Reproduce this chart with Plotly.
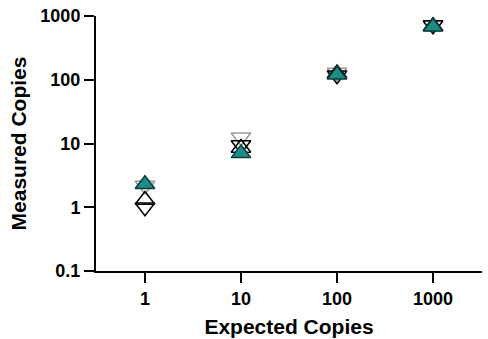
import plotly.graph_objects as go

expected = [1, 10, 100, 1000]
rep_gray_down = [2.2, 12.5, 130, 700]
rep_black_down = [1.0, 9.5, 118, 720]
rep_black_up = [1.3, 8.5, 125, 690]
rep_teal_up = [2.3, 7.0, 120, 680]

x_ticks = [1, 10, 100, 1000]
x_ticklabels = ["1", "10", "100", "1000"]
y_ticks = [0.1, 1, 10, 100, 1000]
y_ticklabels = ["0.1", "1", "10", "100", "1000"]

fig = go.Figure()
series = [
    (rep_gray_down, "triangle-down", "rgba(255,255,255,0)", "#9a9a9a"),
    (rep_black_down, "triangle-down", "rgba(255,255,255,0)", "black"),
    (rep_black_up, "triangle-up", "rgba(255,255,255,0)", "black"),
    (rep_teal_up, "triangle-up", "#1b8c86", "#0d3d3a"),
]
for vals, sym, fill, line in series:
    fig.add_trace(go.Scatter(
        x=expected, y=vals, mode="markers",
        marker=dict(symbol=sym, size=17, color=fill, line=dict(color=line, width=1.5)),
        showlegend=False, cliponaxis=False,
    ))

FAM = "Liberation Sans, Arial, sans-serif"
axis_font = dict(family=FAM, size=18, color="black", weight="bold")
title_font = dict(family=FAM, size=21, color="black", weight="bold")

fig.update_layout(
    width=488, height=339,
    margin=dict(l=96, r=6, t=16, b=68),
    plot_bgcolor="white", paper_bgcolor="white",
    xaxis=dict(
        type="log", range=[-0.51, 3.51], automargin=False,
        tickvals=x_ticks, ticktext=x_ticklabels,
        ticks="outside", ticklen=10, tickwidth=2, tickcolor="black",
        showline=True, linecolor="black", linewidth=2,
        showgrid=False, zeroline=False,
        tickfont=axis_font,
        title=dict(text="Expected Copies", font=title_font, standoff=12),
    ),
    yaxis=dict(
        type="log", range=[-1, 3], automargin=False,
        tickvals=y_ticks, ticktext=y_ticklabels,
        ticks="outside", ticklen=10, tickwidth=2, tickcolor="black",
        showline=True, linecolor="black", linewidth=2,
        showgrid=False, zeroline=False,
        tickfont=axis_font,
        title=dict(text="Measured Copies", font=title_font, standoff=8),
    ),
)

fig.write_html(
    "out.html",
    config={"displayModeBar": False},
    post_script="document.body.style.margin='0';document.body.style.overflow='hidden';",
)
